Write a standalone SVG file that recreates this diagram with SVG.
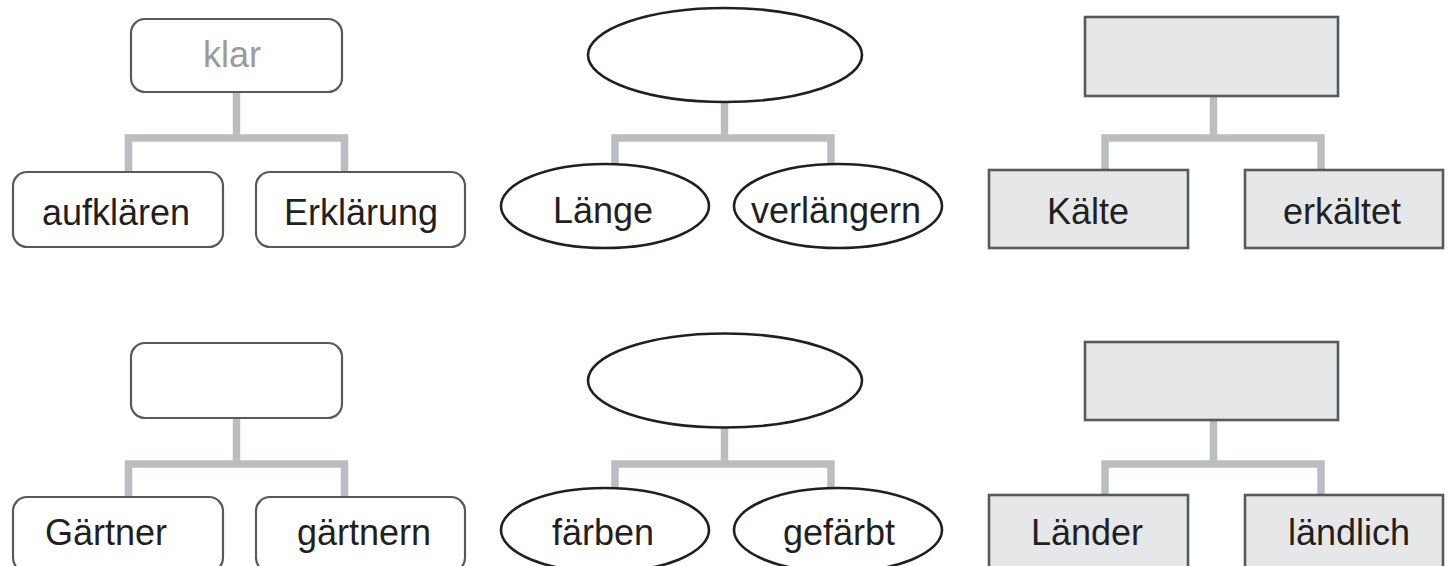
<svg xmlns="http://www.w3.org/2000/svg" width="1451" height="566" viewBox="0 0 1451 566">
<style>
.rr{fill:#fff;stroke:#58595b;stroke-width:2.2}
.el{fill:#fff;stroke:#231f20;stroke-width:2.6}
.bx{fill:#e6e7e8;stroke:#58595b;stroke-width:2.6}
.t{font-family:"Liberation Sans",Arial,sans-serif;font-size:36px;fill:#231f20;text-anchor:middle}
.g{fill:#9a9b9e}
.c{fill:none;stroke:#bcbdc0;stroke-width:7.5;stroke-linejoin:miter}
</style>
<rect width="1451" height="566" fill="#fff"/>
<g id="connectors">
<path class="c" d="M236.5 92V138M128.5 172V138H344.5V172"/>
<path class="c" d="M724.5 102V138M615 164V138H831V164"/>
<path class="c" d="M1213.5 96V138M1105 170V138H1321V170"/>
<path class="c" d="M236.5 418V464M128.5 497V464H344.5V497"/>
<path class="c" d="M724.5 428V464M615 489V464H831V489"/>
<path class="c" d="M1213.5 420V464M1105 495V464H1321V495"/>
</g>
<g id="n-klar"><rect class="rr" x="131" y="19" width="211" height="73" rx="14"/><text class="t g" x="232" y="67">klar</text></g>
<g id="n-aufklaeren"><rect class="rr" x="13" y="172" width="210" height="75" rx="14"/><text class="t" x="116" y="225">aufklären</text></g>
<g id="n-erklaerung"><rect class="rr" x="256" y="172" width="209" height="75" rx="14"/><text class="t" x="361" y="225">Erklärung</text></g>
<g id="n-oval1"><ellipse class="el" cx="725" cy="55" rx="137" ry="47"/></g>
<g id="n-laenge"><ellipse class="el" cx="605" cy="206" rx="104" ry="42"/><text class="t" x="603" y="223">Länge</text></g>
<g id="n-verlaengern"><ellipse class="el" cx="838" cy="206" rx="104" ry="42"/><text class="t" x="836" y="223">verlängern</text></g>
<g id="n-box1"><rect class="bx" x="1085" y="17" width="253" height="79"/></g>
<g id="n-kaelte"><rect class="bx" x="989" y="170" width="199" height="78"/><text class="t" x="1088" y="224">Kälte</text></g>
<g id="n-erkaeltet"><rect class="bx" x="1245" y="170" width="198" height="78"/><text class="t" x="1342" y="224">erkältet</text></g>
<g id="n-rr2"><rect class="rr" x="131" y="343" width="211" height="75" rx="14"/></g>
<g id="n-gaertner"><rect class="rr" x="13" y="497" width="210" height="75" rx="14"/><text class="t" x="106" y="545">Gärtner</text></g>
<g id="n-gaertnern"><rect class="rr" x="256" y="497" width="209" height="75" rx="14"/><text class="t" x="364" y="545">gärtnern</text></g>
<g id="n-oval2"><ellipse class="el" cx="725" cy="380.5" rx="137" ry="47"/></g>
<g id="n-faerben"><ellipse class="el" cx="605" cy="530" rx="104" ry="42"/><text class="t" x="603" y="545">färben</text></g>
<g id="n-gefaerbt"><ellipse class="el" cx="838" cy="530" rx="104" ry="42"/><text class="t" x="839" y="545">gefärbt</text></g>
<g id="n-box2"><rect class="bx" x="1085" y="342" width="253" height="78"/></g>
<g id="n-laender"><rect class="bx" x="989" y="495" width="199" height="78"/><text class="t" x="1087" y="545">Länder</text></g>
<g id="n-laendlich"><rect class="bx" x="1245" y="495" width="198" height="78"/><text class="t" x="1349" y="545">ländlich</text></g>
</svg>
